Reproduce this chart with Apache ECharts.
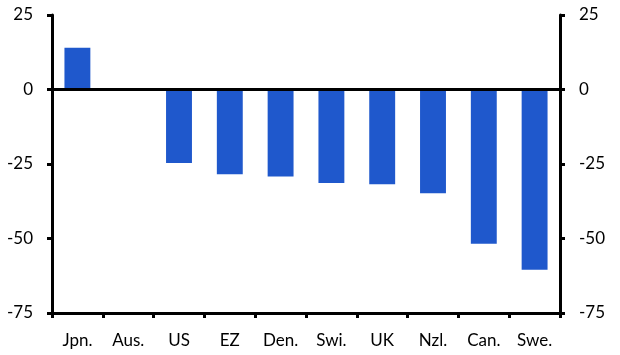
<!DOCTYPE html>
<html>
<head>
<meta charset="utf-8">
<style>
html,body{margin:0;padding:0;background:#fff;}
#chart{width:620px;height:355px;}
</style>
<script src="https://cdn.jsdelivr.net/npm/echarts@6/dist/echarts.min.js"></script>
</head>
<body>
<div id="chart"></div>
<script>
const categories = ['Jpn.', 'Aus.', 'US', 'EZ', 'Den.', 'Swi.', 'UK', 'Nzl.', 'Can.', 'Swe.'];
const values = [14, 0, -24.7, -28.4, -29.2, -31.4, -31.8, -34.8, -51.8, -60.5];
const yTicks = { min: -75, max: 25, interval: 25 };

const chart = echarts.init(document.getElementById('chart'));
const font = 'Lato';
const yAxisCommon = {
  type: 'value',
  min: yTicks.min,
  max: yTicks.max,
  interval: yTicks.interval,
  axisLine: { show: true, lineStyle: { color: '#000', width: 3 } },
  axisTick: { show: true, length: 5, lineStyle: { color: '#000', width: 3 } },
  splitLine: { show: false },
  axisLabel: { color: '#000', fontSize: 17, fontFamily: font, margin: 19 }
};
chart.setOption({
  animation: false,
  grid: { left: 52, right: 60, top: 15, bottom: 42, containLabel: false },
  xAxis: {
    type: 'category',
    data: categories,
    position: 'bottom',
    axisLine: { onZero: false, lineStyle: { color: '#000', width: 3 } },
    axisTick: { show: true, length: 5, interval: 0, alignWithLabel: false, lineStyle: { color: '#000', width: 3 } },
    axisLabel: { color: '#000', fontSize: 17, fontFamily: font, margin: 19, interval: 0 },
    splitLine: { show: false }
  },
  yAxis: [
    Object.assign({}, yAxisCommon, { position: 'left' }),
    Object.assign({}, yAxisCommon, { position: 'right' })
  ],
  series: [{
    type: 'bar',
    data: values,
    yAxisIndex: 0,
    barWidth: '51%',
    itemStyle: { color: '#1F58CC' },
    markLine: {
      silent: true,
      symbol: 'none',
      label: { show: false },
      lineStyle: { color: '#000', width: 3, type: 'solid' },
      data: [{ yAxis: 0 }]
    }
  }]
});
</script>
</body>
</html>
